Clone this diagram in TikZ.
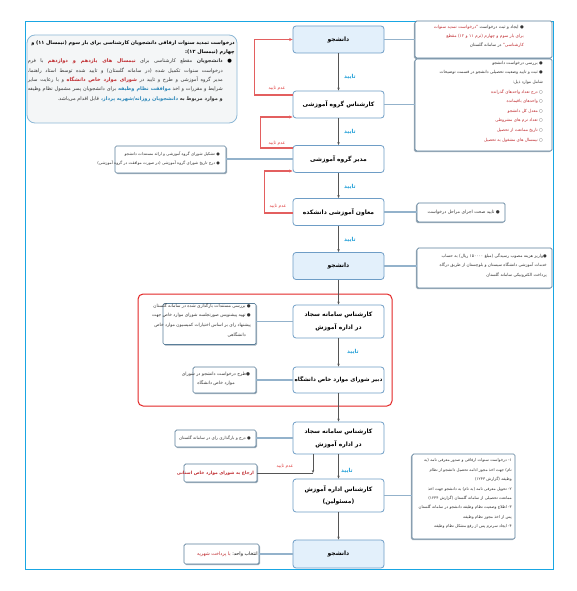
\documentclass[tikz,border=0pt]{standalone}
\usepackage{fontspec}
\usepackage{xcolor}
\usetikzlibrary{arrows.meta,shadows}
\TeXXeTstate=1
\newfontfamily\fa[Script=Arabic]{DejaVu Sans}
\definecolor{mainborder}{HTML}{6E9DC6}
\definecolor{stufill}{HTML}{E3F0FB}
\definecolor{sideborder}{HTML}{5A7E99}
\definecolor{linkblue}{HTML}{93B2CB}
\definecolor{arrowgray}{HTML}{555555}
\definecolor{okblue}{HTML}{23A0D8}
\definecolor{rejred}{HTML}{E35F5F}
\definecolor{rejtxt}{HTML}{E03A3A}
\definecolor{fred}{HTML}{BF2A2E}
\definecolor{fblue}{HTML}{2A86B8}
\definecolor{framecyan}{HTML}{19A6E3}
\definecolor{framered}{HTML}{E32626}
\definecolor{infofill}{HTML}{F4F6F7}
\definecolor{infoborder}{HTML}{8DB8D6}
\definecolor{txtgray}{HTML}{333333}
\definecolor{shadowgray}{HTML}{8C9DAB}
% each segment is reversed on its own; segments of a line are written in visual (left to right) order
\newcommand\RL[1]{\beginR#1\endR}
\newcommand\cred[1]{\textcolor{fred}{\RL{#1}}}
\newcommand\credb[1]{\textcolor{fred}{\bfseries\RL{#1}}}
\newcommand\cblueb[1]{\textcolor{fblue}{\bfseries\RL{#1}}}
\newcommand\cbold[1]{{\bfseries\RL{#1}}}
\newcommand\jline[1]{\hbox to 195pt{#1}}
\newcommand\rlm{^^^^200f}
\tikzset{
  mainbox/.style={draw=mainborder, line width=0.8pt, rounded corners=3pt, fill=white,
    minimum width=91pt, minimum height=27pt, inner sep=1pt, align=center,
    font=\fa\bfseries\fontsize{6}{13}\selectfont},
  stubox/.style={mainbox, fill=stufill},
  sidebox/.style={draw=sideborder, line width=0.7pt, rounded corners=1.5pt, fill=white, inner sep=0pt},
  sideL/.style={sidebox, drop shadow={shadow xshift=1.1pt, shadow yshift=-1.1pt, fill=shadowgray, opacity=0.8}},
  sideR/.style={sidebox, drop shadow={shadow xshift=-1.1pt, shadow yshift=-1.1pt, fill=shadowgray, opacity=0.8}},
  sidetxt/.style={inner sep=0pt, align=right, anchor=north east, text=txtgray,
    font=\fa\fontsize{4.2}{9.4}\selectfont},
  lnk/.style={draw=linkblue, line width=1.3pt},
  flw/.style={draw=arrowgray, line width=0.6pt, -{Stealth[length=3pt,width=2.4pt]}},
  rej/.style={draw=rejred, line width=1.2pt, -{Stealth[length=3.5pt,width=3pt]}},
  oklab/.style={text=okblue, font=\fa\bfseries\fontsize{5.5}{6}\selectfont, inner sep=0pt},
  rejlab/.style={text=rejtxt, font=\fa\fontsize{4.5}{5}\selectfont, inner sep=0pt},
}
\begin{document}
\begin{tikzpicture}[x=1pt,y=-1pt]
\useasboundingbox (0,0) rectangle (576,591);
\fill[white] (0,0) rectangle (576,591);
% outer frame
\node[draw=framecyan, line width=0.8pt, minimum width=528pt, minimum height=548pt, inner sep=0pt] (outer) at (289,295) {};
% red frame
\node[draw=framered, line width=1pt, rounded corners=5pt, minimum width=254pt, minimum height=112pt, inner sep=0pt] (redfr) at (265,350) {};
% info box
\node[draw=infoborder, fill=infofill, line width=0.8pt, rounded corners=8pt, minimum width=210pt, minimum height=88pt, inner sep=0pt] (info) at (132,79) {};
\node[inner sep=0pt, anchor=north east, align=right, font=\fa\bfseries\fontsize{4.95}{9.3}\selectfont] (infoh) at (235,40.5)
 {\RL{درخواست تمدید سنوات ارفاقی دانشجویان کارشناسی برای بار سوم (نیمسال \rlm۱۱) و}\\
  \RL{چهارم (نیمسال \rlm۱۲):}};
\node[inner sep=0pt, anchor=north east, font=\fa\fontsize{5.2}{9.3}\selectfont] (infob) at (232,59) {●};
\node[inner sep=0pt, anchor=north east, align=right, text=txtgray, font=\fa\fontsize{5}{9.3}\selectfont] (infot) at (223,59)
 {\jline{\RL{با فرم} \credb{نیمسال های یازدهم و دوازدهم} \RL{مقطع کارشناسی برای} \cbold{دانشجویان}}\\
  \jline{\RL{درخواست سنوات تکمیل شده (در سامانه گلستان) و تایید شده توسط استاد راهنما،}}\\
  \jline{\RL{و با رعایت سایر} \credb{شورای موارد خاص دانشگاه} \RL{مدیر گروه آموزشی و طرح و تایید در}}\\
  \jline{\RL{برای دانشجویان پسر مشمول نظام وظیفه} \cblueb{موافقت نظام وظیفه} \RL{شرایط و مقررات و اخذ}}\\
  \RL{قابل اقدام می‌باشد.} \cblueb{دانشجویان روزانه/شهریه پرداز،} \cbold{و موارد مربوط به}};
% side boxes
\node[sideR, minimum width=137pt, minimum height=37pt] (bA) at (483.5,39.5) {};
\node[sidetxt, font=\fa\fontsize{4.3}{9}\selectfont] (tA) at (524,25)
 {\cred{"درخواست تمدید سنوات} \RL{● ایجاد و ثبت درخواست}\\
  \cred{برای بار سوم و چهارم (ترم ۱۱ و \rlm۱۲) مقطع}\\
  \RL{در سامانه گلستان} \cred{کارشناسی"}};
\node[sideR, minimum width=137pt, minimum height=92pt] (bB) at (483.5,105) {};
\node[sidetxt, font=\fa\fontsize{4.2}{9.6}\selectfont] (tB) at (543,61)
 {\RL{● بررسی درخواست دانشجو}\\
  \RL{● ثبت و تایید وضعیت تحصیلی دانشجو در قسمت توضیحات}\\
  \RL{شامل موارد ذیل:}\hspace*{24pt}\\
  \cred{درج تعداد واحدهای گذرانده} ○\\
  \cred{واحدهای باقیمانده} ○\\
  \cred{معدل کل دانشجو} ○\\
  \cred{تعداد ترم های مشروطی} ○\\
  \cred{تاریخ ممانعت از تحصیل} ○\\
  \cred{نیمسال های مشغول به تحصیل} ○};
\node[sideL, minimum width=111pt, minimum height=27pt] (bM) at (170.5,159.5) {};
\node[sidetxt, font=\fa\fontsize{4}{9}\selectfont] (tM) at (220,151.5)
 {\RL{● تشکیل شورای گروه آموزشی و ارائه مستندات دانشجو}\\
  \RL{● درج تاریخ شورای گروه آموزشی (در صورت موافقت در گروه آموزشی)}};
\node[sideR, minimum width=88pt, minimum height=19pt] (bO) at (461,212.5) {};
\node[sidetxt, anchor=east, font=\fa\fontsize{4.5}{9}\selectfont] (tO) at (500,212.5)
 {\RL{● تایید صحت اجرای مراحل درخواست}};
\node[sideR, minimum width=135pt, minimum height=40pt] (bS) at (484.5,268) {};
\node[sidetxt, font=\fa\fontsize{4.2}{9.5}\selectfont] (tS) at (547,253.5)
 {\RL{●واریز هزینه مصوب رسیدگی (مبلغ ۱۵۰۰۰۰ ریال) به حساب}\\
  \RL{خدمات آموزشی دانشگاه سیستان و بلوچستان از طریق درگاه}\\
  \RL{پرداخت الکترونیکی سامانه گلستان}};
\node[sideL, minimum width=93pt, minimum height=41pt] (bJ1) at (209.5,324) {};
\node[sidetxt, font=\fa\fontsize{4.4}{9.8}\selectfont] (tJ1) at (251,303)
 {\RL{● بررسی مستندات بارگذاری شده در سامانه گلستان}\\
  \RL{● تهیه پیشنویس صورتجلسه شورای موارد خاص جهت}\\
  \RL{پیشنهاد رای بر اساس اختیارات کمیسیون موارد خاص}\\
  \RL{دانشگاهی}\hspace*{5pt}};
\node[sideL, minimum width=63pt, minimum height=26pt] (bD) at (224.5,380) {};
\node[sidetxt, anchor=north, align=center, font=\fa\fontsize{4.5}{9.8}\selectfont] (tD) at (216,371.5)
 {\RL{●طرح درخواست دانشجو در شورای}\\
  \RL{موارد خاص دانشگاه}};
\node[sideL, minimum width=81pt, minimum height=17pt] (bJ2) at (215.5,438.5) {};
\node[sidetxt, anchor=east, font=\fa\fontsize{4.2}{9}\selectfont] (tJ2) at (251,438.5)
 {\RL{● درج و بارگذاری رای در سامانه گلستان}};
\node[sideL, minimum width=73pt, minimum height=18pt] (bE) at (220.5,473) {};
\node[sidetxt, anchor=east, text=fred, font=\fa\bfseries\fontsize{4.4}{9}\selectfont] (tE) at (254,473)
 {\RL{ارجاع به شورای موارد خاص استانی}};
\node[sideR, minimum width=103pt, minimum height=85pt] (bK) at (463.5,496.5) {};
\node[sidetxt, font=\fa\fontsize{4}{9.43}\selectfont] (tK) at (512,458.5)
 {\RL{\rlm۱- درخواست سنوات ارفاقی و صدور معرفی نامه (به}\\
  \RL{نام) جهت اخذ مجوز ادامه تحصیل دانشجو از نظام}\\
  \RL{وظیفه (گزارش \rlm۱۲۴۳)}\\
  \RL{\rlm۲- تحویل معرفی نامه (به نام) به دانشجو جهت اخذ}\\
  \RL{ممانعت تحصیلی از سامانه گلستان (گزارش \rlm۱۲۴۴)}\\
  \RL{\rlm۳- اطلاع وضعیت نظام وظیفه دانشجو در سامانه گلستان}\\
  \RL{پس از اخذ مجوز نظام وظیفه}\\
  \RL{\rlm۴- ایجاد سرترم پس از رفع مشکل نظام وظیفه}};
\node[sideL, minimum width=75pt, minimum height=20pt] (bU) at (221.5,554) {};
\node[sidetxt, anchor=east, text=black, font=\fa\fontsize{4.8}{9}\selectfont] (tU) at (258,554)
 {\cred{با پرداخت شهریه} \RL{انتخاب واحد:}};
% main boxes
\node[stubox] (s1) at (338.5,39.5) {\RL{دانشجو}};
\node[mainbox] (kg) at (338.5,104.5) {\RL{کارشناس گروه آموزشی}};
\node[mainbox] (mg) at (338.5,159) {\RL{مدیر گروه آموزشی}};
\node[mainbox] (mo) at (338.5,212) {\RL{معاون آموزشی دانشکده}};
\node[stubox] (s2) at (338.5,266) {\RL{دانشجو}};
\node[mainbox, minimum height=33pt] (sj1) at (338.5,321.5) {\RL{کارشناس سامانه سجاد}\\\RL{در اداره آموزش}};
\node[mainbox, minimum height=26pt, font=\fa\bfseries\fontsize{5.6}{12}\selectfont] (db) at (338.5,380) {\RL{دبیر شورای موارد خاص دانشگاه}};
\node[mainbox, minimum height=32pt] (sj2) at (338.5,438) {\RL{کارشناس سامانه سجاد}\\\RL{در اداره آموزش}};
\node[mainbox, minimum height=33pt, font=\fa\bfseries\fontsize{6}{12}\selectfont] (ka) at (338.5,495.5) {\RL{کارشناس اداره آموزش}\\\RL{(مسئولین)}};
\node[stubox, minimum height=28pt] (s3) at (338.5,554) {\RL{دانشجو}};
% links to side boxes
\draw[lnk] (s1.east) -- (s1.east -| bA.west);
\draw[lnk] (kg.east) -- (kg.east -| bB.west);
\draw[lnk] (mg.west) -- (mg.west -| bM.east);
\draw[lnk] (mo.east) -- (mo.east -| bO.west);
\draw[lnk] (s2.east) -- (s2.east -| bS.west);
\draw[lnk] (sj1.west) -- (sj1.west -| bJ1.east);
\draw[lnk] (db.west) -- (db.west -| bD.east);
\draw[lnk] (sj2.west) -- (sj2.west -| bJ2.east);
\draw[lnk] (ka.east) -- (ka.east -| bK.west);
\draw[lnk] (s3.west) -- (s3.west -| bU.east);
% flow arrows
\draw[flw] (s1) -- (kg);
\draw[flw] (kg) -- (mg);
\draw[flw] (mg) -- (mo);
\draw[flw] (mo) -- (s2);
\draw[flw] (s2) -- (sj1);
\draw[flw] (sj1) -- (db);
\draw[flw] (db) -- (sj2);
\draw[flw] (sj2) -- (ka);
\draw[flw] (ka) -- (s3);
\node[oklab] (ok1) at (350,77) {\RL{تایید}};
\node[oklab] (ok2) at (350,132) {\RL{تایید}};
\node[oklab] (ok3) at (350,187) {\RL{تایید}};
\node[oklab] (ok4) at (350,240) {\RL{تایید}};
\node[oklab] (ok5) at (353,352) {\RL{تایید}};
\node[oklab] (ok6) at (347,471) {\RL{تایید}};
% rejection loops
\draw[rej] ([yshift=9.5pt]kg.west) -- ++(-38,0) |- (s1.west);
\draw[rej] ([yshift=11pt]mg.west) -- ++(-32,0) |- ([yshift=-12.5pt]kg.west);
\draw[rej] ([yshift=-1pt]mo.west) -- ++(-28,0) |- ([yshift=-12pt]mg.west);
\node[rejlab] (rj1) at (277,88.5) {\RL{عدم تایید}};
\node[rejlab] (rj2) at (277,143.5) {\RL{عدم تایید}};
\node[rejlab] (rj3) at (278,206) {\RL{عدم تایید}};
\coordinate (jn) at (313,473);
\draw[flw] ([xshift=-25.5pt]sj2.south) -- (jn);
\draw[draw=arrowgray, line width=0.6pt] (jn) -- (bE.east);
\node[rejlab] (rj4) at (285,466.5) {\RL{عدم تایید}};
\end{tikzpicture}
\end{document}
